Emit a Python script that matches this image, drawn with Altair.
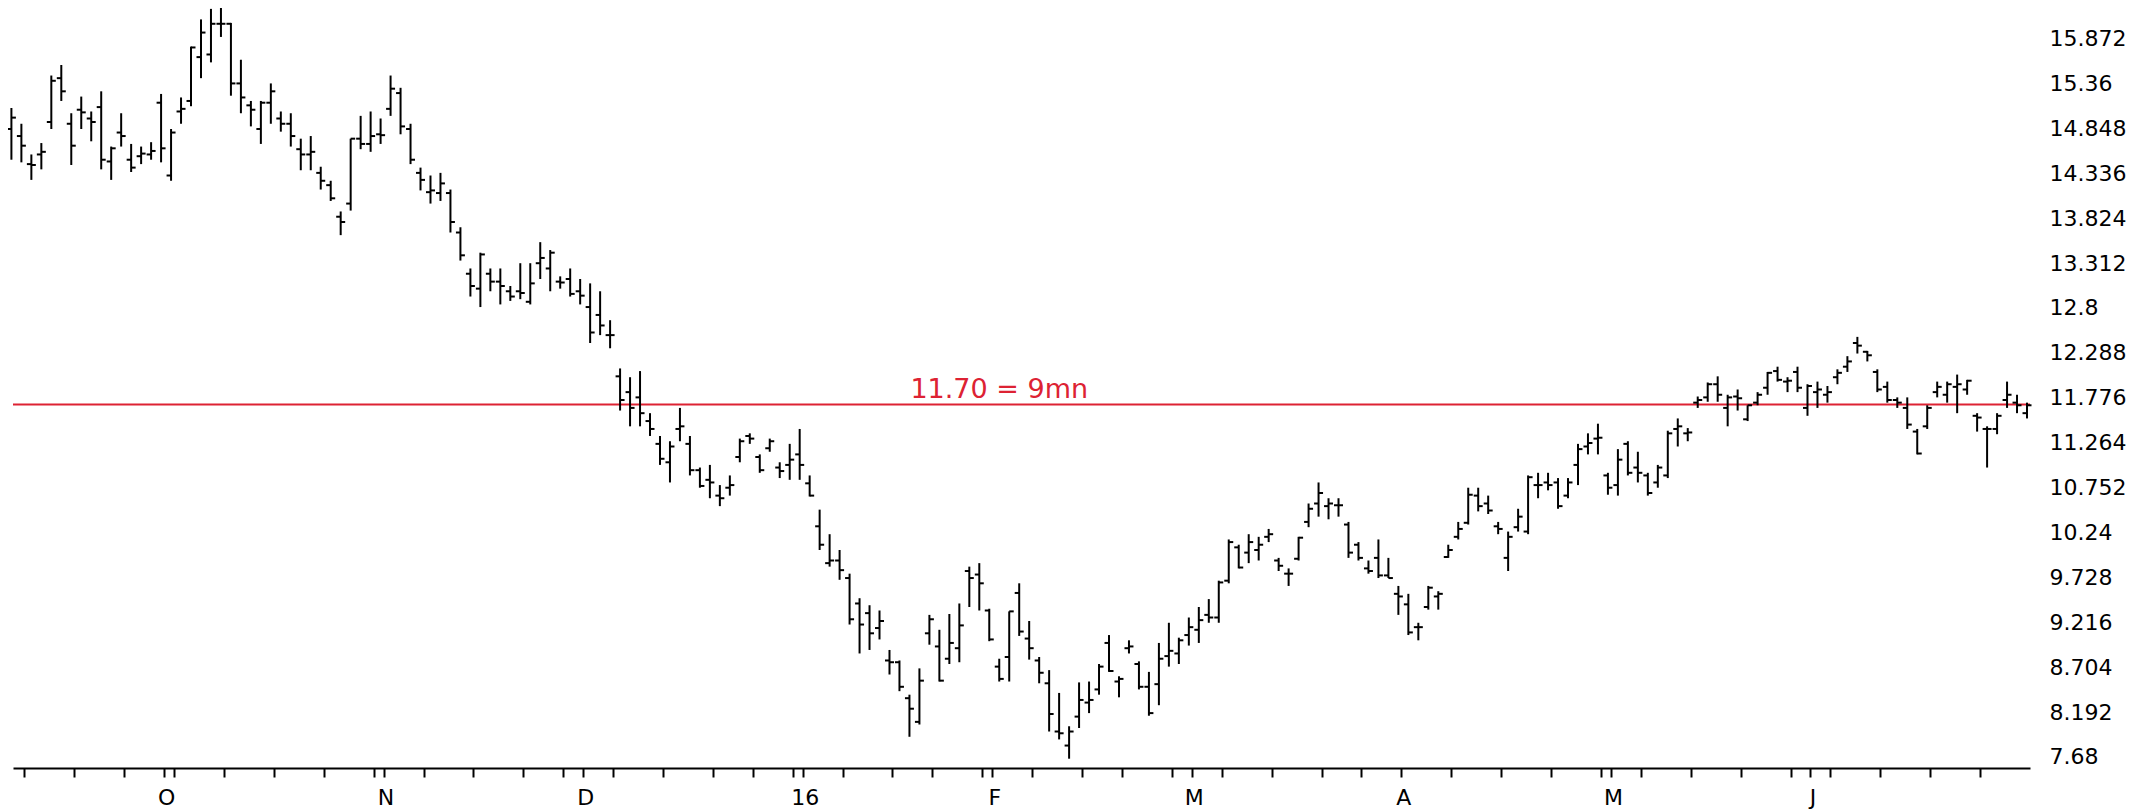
import altair as alt
import pandas as pd

# ---- OHLC values (one entry per trading day) ----
opens = [14.84, 14.76, 14.44, 14.55, 14.92, 15.42, 14.90, 15.06, 14.96, 15.09,
         14.47, 14.80, 14.49, 14.53, 14.55, 15.14, 14.31, 15.04, 15.16, 15.66,
         15.69, 16.04, 16.04, 15.36, 15.11, 14.84, 15.14, 14.96, 14.90, 14.61,
         14.55, 14.34, 14.20, 13.84, 13.99, 14.73, 14.67, 14.78, 15.07, 15.25,
         14.84, 14.34, 14.12, 14.11, 14.11, 13.66, 13.19, 13.02, 13.19, 13.10,
         12.99, 12.99, 12.87, 13.31, 13.25, 13.10, 13.13, 12.99, 12.81, 12.72,
         12.49, 12.02, 11.84, 11.78, 11.51, 11.25, 11.04, 11.42, 11.25, 10.95,
         10.84, 10.66, 10.75, 11.10, 11.34, 11.10, 11.20, 10.98, 11.01, 11.13,
         10.80, 10.31, 9.89, 9.92, 9.72, 9.43, 9.32, 9.15, 8.78, 8.76,
         8.35, 8.08, 9.09, 8.94, 8.80, 8.92, 9.80, 9.76, 9.35, 8.71,
         8.82, 9.55, 9.03, 8.78, 8.52, 7.97, 7.81, 8.14, 8.30, 8.45,
         8.98, 8.54, 8.92, 8.74, 8.48, 8.51, 8.83, 8.86, 9.07, 9.13,
         9.30, 9.27, 9.69, 10.07, 10.01, 10.04, 10.19, 9.92, 9.77, 9.94,
         10.36, 10.57, 10.54, 10.55, 10.33, 10.10, 9.83, 9.95, 9.75, 9.54,
         9.42, 9.16, 9.39, 9.51, 9.96, 10.19, 10.35, 10.66, 10.57, 10.31,
         9.95, 10.30, 10.25, 10.78, 10.81, 10.81, 10.66, 11.01, 11.22, 11.31,
         10.89, 10.78, 11.25, 10.98, 10.89, 10.81, 10.89, 11.42, 11.37, 11.72,
         11.78, 11.93, 11.66, 11.79, 11.53, 11.72, 11.89, 12.08, 11.96, 12.07,
         11.66, 11.84, 11.81, 12.01, 12.13, 12.40, 12.30, 12.07, 11.90, 11.75,
         11.66, 11.39, 11.45, 11.84, 11.81, 11.90, 11.87, 11.57, 11.42, 11.42,
         11.75, 11.72, 11.60]

highs = [15.08, 14.90, 14.55, 14.68, 15.45, 15.57, 15.02, 15.21, 15.04, 15.27,
         14.64, 15.02, 14.67, 14.64, 14.69, 15.24, 14.84, 15.20, 15.78, 16.09,
         16.21, 16.22, 16.05, 15.63, 15.16, 15.16, 15.36, 15.04, 15.02, 14.73,
         14.76, 14.41, 14.25, 13.90, 14.73, 14.99, 15.04, 14.96, 15.45, 15.31,
         14.90, 14.40, 14.31, 14.34, 14.15, 13.72, 13.25, 13.43, 13.25, 13.25,
         13.05, 13.31, 13.31, 13.55, 13.46, 13.16, 13.25, 13.13, 13.08, 12.99,
         12.66, 12.11, 12.01, 12.08, 11.60, 11.34, 11.28, 11.66, 11.34, 10.98,
         11.01, 10.78, 10.89, 11.31, 11.37, 11.13, 11.31, 11.04, 11.25, 11.42,
         10.89, 10.50, 10.22, 10.04, 9.77, 9.49, 9.41, 9.35, 8.90, 8.78,
         8.39, 8.69, 9.30, 9.13, 9.31, 9.43, 9.85, 9.89, 9.37, 8.80,
         9.34, 9.66, 9.23, 8.82, 8.67, 8.41, 8.03, 8.53, 8.54, 8.74,
         9.07, 8.60, 9.01, 8.77, 8.65, 8.98, 9.21, 9.04, 9.27, 9.39,
         9.48, 9.69, 10.16, 10.10, 10.22, 10.19, 10.28, 9.95, 9.83, 10.19,
         10.57, 10.81, 10.63, 10.63, 10.36, 10.13, 9.92, 10.16, 9.95, 9.63,
         9.54, 9.21, 9.63, 9.57, 10.10, 10.36, 10.75, 10.75, 10.66, 10.36,
         10.25, 10.51, 10.89, 10.92, 10.92, 10.86, 10.86, 11.25, 11.37, 11.48,
         10.92, 11.19, 11.28, 11.16, 10.92, 11.01, 11.40, 11.54, 11.43, 11.79,
         11.95, 12.02, 11.81, 11.87, 11.69, 11.84, 12.07, 12.13, 12.01, 12.13,
         11.93, 11.96, 11.91, 12.10, 12.25, 12.47, 12.31, 12.10, 11.96, 11.78,
         11.78, 11.42, 11.69, 11.96, 11.96, 12.04, 11.98, 11.60, 11.45, 11.60,
         11.96, 11.81, 11.72]

lows = [14.49, 14.46, 14.26, 14.38, 14.84, 15.16, 14.43, 14.84, 14.70, 14.38,
        14.26, 14.64, 14.35, 14.44, 14.49, 14.46, 14.25, 14.90, 15.10, 15.42,
        15.60, 15.89, 15.22, 15.02, 14.87, 14.67, 14.90, 14.81, 14.64, 14.37,
        14.37, 14.15, 14.02, 13.63, 13.91, 14.61, 14.58, 14.67, 14.99, 14.78,
        14.44, 14.14, 13.99, 14.02, 13.66, 13.34, 12.93, 12.81, 12.99, 12.84,
        12.88, 12.90, 12.84, 13.13, 12.99, 13.02, 12.93, 12.84, 12.40, 12.49,
        12.34, 11.63, 11.45, 11.45, 11.34, 11.01, 10.81, 11.28, 10.89, 10.75,
        10.63, 10.54, 10.66, 11.04, 11.25, 10.92, 11.16, 10.86, 10.84, 10.84,
        10.65, 10.04, 9.85, 9.70, 9.19, 8.86, 8.90, 9.02, 8.62, 8.43,
        7.91, 8.05, 8.96, 8.54, 8.74, 8.76, 9.39, 9.35, 9.00, 8.54,
        8.54, 9.06, 8.79, 8.52, 7.97, 7.88, 7.66, 8.01, 8.18, 8.39,
        8.65, 8.36, 8.86, 8.45, 8.15, 8.27, 8.71, 8.74, 8.95, 8.98,
        9.21, 9.21, 9.66, 9.83, 9.89, 9.92, 10.13, 9.80, 9.63, 9.92,
        10.30, 10.42, 10.39, 10.42, 9.95, 9.92, 9.77, 9.72, 9.72, 9.30,
        9.07, 9.01, 9.36, 9.36, 9.95, 10.16, 10.33, 10.48, 10.45, 10.22,
        9.80, 10.25, 10.22, 10.63, 10.72, 10.51, 10.63, 10.78, 11.13, 11.13,
        10.67, 10.66, 10.89, 10.81, 10.66, 10.75, 10.86, 11.22, 11.28, 11.66,
        11.73, 11.73, 11.45, 11.63, 11.51, 11.69, 11.81, 11.96, 11.84, 11.84,
        11.57, 11.66, 11.72, 11.93, 12.07, 12.28, 12.19, 11.84, 11.72, 11.66,
        11.42, 11.13, 11.42, 11.78, 11.72, 11.60, 11.81, 11.39, 10.98, 11.36,
        11.66, 11.60, 11.54]

closes = [14.97, 14.65, 14.43, 14.58, 15.39, 15.27, 14.65, 15.03, 14.92, 14.49,
          14.62, 14.76, 14.40, 14.56, 14.59, 14.62, 14.80, 15.07, 15.77, 15.94,
          16.04, 16.04, 15.36, 15.20, 15.06, 15.14, 15.27, 14.90, 14.76, 14.55,
          14.58, 14.25, 14.05, 13.78, 14.73, 14.67, 14.76, 14.77, 15.30, 14.87,
          14.49, 14.26, 14.14, 14.22, 13.78, 13.40, 13.05, 13.41, 13.10, 13.05,
          12.93, 12.97, 13.08, 13.37, 13.43, 13.09, 12.96, 12.94, 12.52, 12.60,
          12.49, 11.75, 11.66, 11.60, 11.42, 11.08, 11.22, 11.45, 10.95, 10.77,
          10.81, 10.63, 10.78, 11.28, 11.31, 10.95, 11.28, 10.94, 11.07, 11.01,
          10.66, 10.10, 9.92, 9.81, 9.25, 9.19, 9.09, 9.23, 8.76, 8.48,
          8.23, 8.55, 9.25, 8.55, 8.98, 9.18, 9.72, 9.66, 9.02, 8.57,
          9.34, 9.11, 8.92, 8.64, 8.17, 7.95, 7.97, 8.33, 8.33, 8.71,
          8.66, 8.57, 8.94, 8.48, 8.18, 8.80, 8.89, 9.01, 9.16, 9.24,
          9.27, 9.67, 10.13, 9.84, 10.13, 10.10, 10.22, 9.86, 9.77, 10.18,
          10.51, 10.69, 10.57, 10.55, 10.01, 9.95, 9.80, 9.75, 9.72, 9.51,
          9.10, 9.16, 9.61, 9.54, 10.04, 10.28, 10.67, 10.54, 10.49, 10.28,
          10.19, 10.42, 10.87, 10.78, 10.78, 10.54, 10.81, 11.19, 11.26, 11.32,
          10.75, 11.07, 10.92, 10.92, 10.69, 10.98, 11.37, 11.45, 11.38, 11.75,
          11.93, 11.81, 11.78, 11.77, 11.69, 11.81, 12.06, 11.98, 11.97, 11.89,
          11.91, 11.87, 11.84, 12.06, 12.19, 12.37, 12.26, 11.87, 11.75, 11.72,
          11.47, 11.14, 11.66, 11.90, 11.93, 11.93, 11.97, 11.55, 11.42, 11.57,
          11.81, 11.69, 11.69]

# ---- axis ticks (bar indices) and labels ----
month_ticks = [15, 37, 57, 79, 98, 118, 139, 160, 180]
month_labels = ["O", "N", "D", "16", "F", "M", "A", "M", "J"]
week_ticks = [1, 6, 11, 16, 21, 26, 31, 36, 41, 46, 51, 55, 60, 65, 70, 74, 78,
              83, 88, 92, 97, 102, 107, 111, 116, 121, 126, 131, 135, 139, 144,
              149, 154, 159, 163, 168, 173, 178, 182, 187, 192, 197]
y_ticks = [7.68, 8.192, 8.704, 9.216, 9.728, 10.24, 10.752, 11.264, 11.776,
           12.288, 12.8, 13.312, 13.824, 14.336, 14.848, 15.36, 15.872]

level = 11.70
level_label = "11.70 = 9mn"
level_label_pos = 99

RED = "#dd2233"
FONT = "DejaVu Sans"

n = len(opens)
df = pd.DataFrame({"i": list(range(n)), "open": opens, "high": highs,
                   "low": lows, "close": closes})
df["i_open"] = df["i"] - 0.45
df["i_close"] = df["i"] + 0.45

xscale = alt.Scale(domain=[0.16, 202.3], nice=False, zero=False)
yscale = alt.Scale(domain=[7.554, 16.22], nice=False, zero=False)

label_expr = " : ".join(
    f"datum.value == {v} ? '{l}'" for v, l in zip(month_ticks, month_labels)
) + " : ''"

xaxis = alt.Axis(
    values=sorted(set(week_ticks + month_ticks)), labelExpr=label_expr,
    grid=False, tickSize=9, tickWidth=2, tickColor="black", tickOffset=3,
    labelOffset=2, domainColor="black", domainWidth=2, labelFont=FONT,
    labelFontSize=22, labelColor="black", labelPadding=10,
    labelOverlap=False, labelFlush=False, title=None,
)
yaxis = alt.Axis(
    orient="right", values=y_ticks, format=".3~f", grid=False, ticks=False,
    domain=False, labelPadding=19, labelFont=FONT, labelFontSize=22,
    labelColor="black", labelBaseline="middle", labelAlign="left",
    title=None,
)

base = alt.Chart(df)
hl = base.mark_rule(color="black", strokeWidth=2).encode(
    x=alt.X("i:Q", scale=xscale, axis=xaxis),
    y=alt.Y("low:Q", scale=yscale, axis=yaxis),
    y2="high:Q",
)
op = base.mark_rule(color="black", strokeWidth=2).encode(
    x=alt.X("i_open:Q", title=None), x2="i:Q", y=alt.Y("open:Q", title=None)
)
cl = base.mark_rule(color="black", strokeWidth=2).encode(
    x=alt.X("i:Q", title=None), x2="i_close:Q", y=alt.Y("close:Q", title=None)
)

lvl_df = pd.DataFrame({"pos": [level_label_pos], "level": [level], "t": [level_label]})
lvl_line = alt.Chart(lvl_df).mark_rule(color=RED, strokeWidth=2).encode(
    y=alt.Y("level:Q", title=None)
)
lvl_text = alt.Chart(lvl_df).mark_text(
    color=RED, font=FONT, fontSize=27, baseline="alphabetic", dy=-6, align="center"
).encode(x=alt.X("pos:Q", title=None), y=alt.Y("level:Q", title=None), text="t:N")

chart = alt.layer(lvl_line, hl, op, cl, lvl_text).properties(
    width=2017, height=760,
    padding={"left": 5, "top": 0, "right": 108, "bottom": 43},
    autosize="none",
).configure_view(strokeWidth=0)

chart.save("out.html", embed_options={"renderer": "svg", "actions": False})
